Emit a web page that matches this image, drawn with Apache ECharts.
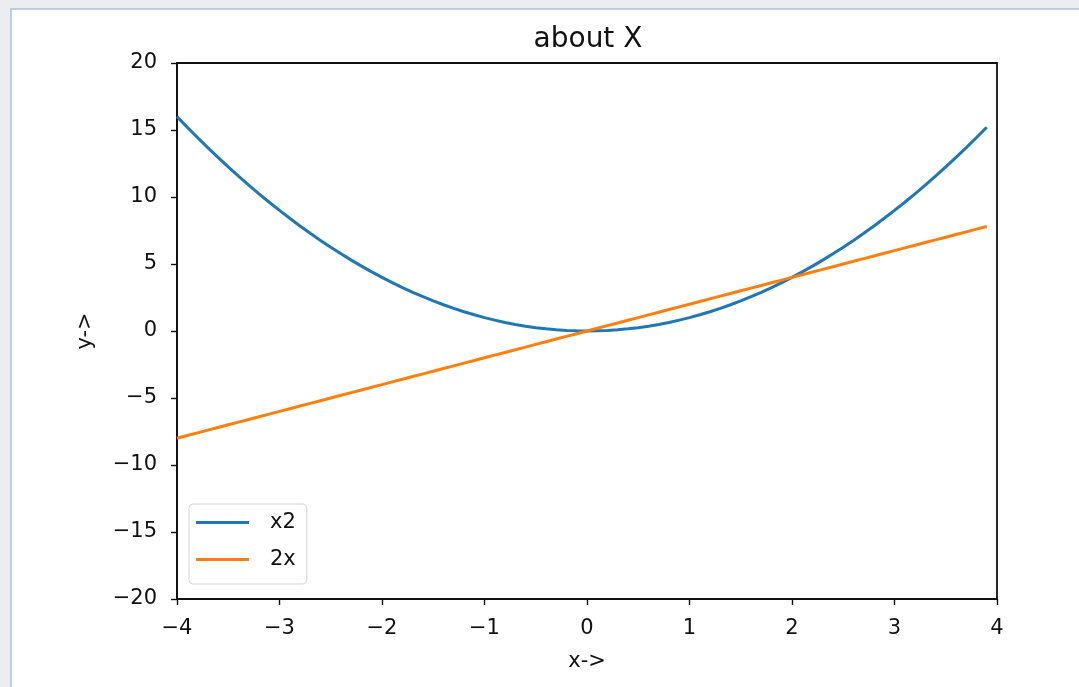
<!DOCTYPE html>
<html>
<head>
<meta charset="utf-8">
<script src="https://cdn.jsdelivr.net/npm/echarts@6/dist/echarts.min.js"></script>
<style>
  html, body { margin: 0; padding: 0; background: #ffffff; }
  #chart { width: 1079px; height: 687px; }
</style>
</head>
<body>
<div id="chart"></div>
<script>
// Sample positions along x
const xs = [
  -4.0, -3.9, -3.8, -3.7, -3.6, -3.5, -3.4, -3.3, -3.2, -3.1,
  -3.0, -2.9, -2.8, -2.7, -2.6, -2.5, -2.4, -2.3, -2.2, -2.1,
  -2.0, -1.9, -1.8, -1.7, -1.6, -1.5, -1.4, -1.3, -1.2, -1.1,
  -1.0, -0.9, -0.8, -0.7, -0.6, -0.5, -0.4, -0.3, -0.2, -0.1,
   0.0,  0.1,  0.2,  0.3,  0.4,  0.5,  0.6,  0.7,  0.8,  0.9,
   1.0,  1.1,  1.2,  1.3,  1.4,  1.5,  1.6,  1.7,  1.8,  1.9,
   2.0,  2.1,  2.2,  2.3,  2.4,  2.5,  2.6,  2.7,  2.8,  2.9,
   3.0,  3.1,  3.2,  3.3,  3.4,  3.5,  3.6,  3.7,  3.8,  3.9
];

// "x2" curve values
const squareVals = [
  16.00, 15.21, 14.44, 13.69, 12.96, 12.25, 11.56, 10.89, 10.24, 9.61,
   9.00,  8.41,  7.84,  7.29,  6.76,  6.25,  5.76,  5.29,  4.84, 4.41,
   4.00,  3.61,  3.24,  2.89,  2.56,  2.25,  1.96,  1.69,  1.44, 1.21,
   1.00,  0.81,  0.64,  0.49,  0.36,  0.25,  0.16,  0.09,  0.04, 0.01,
   0.00,  0.01,  0.04,  0.09,  0.16,  0.25,  0.36,  0.49,  0.64, 0.81,
   1.00,  1.21,  1.44,  1.69,  1.96,  2.25,  2.56,  2.89,  3.24, 3.61,
   4.00,  4.41,  4.84,  5.29,  5.76,  6.25,  6.76,  7.29,  7.84, 8.41,
   9.00,  9.61, 10.24, 10.89, 11.56, 12.25, 12.96, 13.69, 14.44, 15.21
];

// "2x" line values
const doubleVals = [
  -8.0, -7.8, -7.6, -7.4, -7.2, -7.0, -6.8, -6.6, -6.4, -6.2,
  -6.0, -5.8, -5.6, -5.4, -5.2, -5.0, -4.8, -4.6, -4.4, -4.2,
  -4.0, -3.8, -3.6, -3.4, -3.2, -3.0, -2.8, -2.6, -2.4, -2.2,
  -2.0, -1.8, -1.6, -1.4, -1.2, -1.0, -0.8, -0.6, -0.4, -0.2,
   0.0,  0.2,  0.4,  0.6,  0.8,  1.0,  1.2,  1.4,  1.6,  1.8,
   2.0,  2.2,  2.4,  2.6,  2.8,  3.0,  3.2,  3.4,  3.6,  3.8,
   4.0,  4.2,  4.4,  4.6,  4.8,  5.0,  5.2,  5.4,  5.6,  5.8,
   6.0,  6.2,  6.4,  6.6,  6.8,  7.0,  7.2,  7.4,  7.6,  7.8
];

const seriesNames = ['x2', '2x'];
const titleText = 'about X';
const xName = 'x->';
const yName = 'y->';

const FONT = 'DejaVu Sans';
const fmtTick = v => (v < 0 ? '\u2212' + Math.abs(v) : String(v));

const pairs = vals => xs.map((x, i) => [x, vals[i]]);

const chart = echarts.init(document.getElementById('chart'), null, { renderer: 'canvas' });

const axisCommon = {
  type: 'value',
  splitLine: { show: false },
  axisLine: { show: true, onZero: false, lineStyle: { color: '#111', width: 1.8 } },
  axisTick: { show: true, inside: false, length: 6, lineStyle: { color: '#111', width: 1.4 } },
  nameTextStyle: { fontFamily: FONT, fontSize: 21, color: '#111' }
};

chart.setOption({
  animation: false,
  backgroundColor: '#ebedf0',
  graphic: [
    {
      type: 'rect',
      z: -10,
      shape: { x: 11, y: 9, width: 1100, height: 700 },
      style: { fill: '#ffffff', stroke: '#a9c3df', lineWidth: 1.5 }
    }
  ],
  title: {
    text: titleText,
    left: 583,
    top: 21,
    textAlign: 'center',
    textStyle: { fontFamily: FONT, fontSize: 28, fontWeight: 'normal', color: '#111' }
  },
  legend: {
    orient: 'vertical',
    left: 189,
    top: 504,
    data: seriesNames,
    icon: 'rect',
    itemWidth: 53,
    itemHeight: 3,
    itemGap: 16,
    padding: [8, 11, 14, 7],
    backgroundColor: '#ffffff',
    borderColor: '#d6d6d6',
    borderWidth: 1,
    borderRadius: 4,
    textStyle: { fontFamily: FONT, fontSize: 21, color: '#111', lineHeight: 21, padding: [0, 0, 0, 16] }
  },
  grid: {
    left: 177, top: 63, width: 820, height: 536,
    show: true, borderColor: '#111', borderWidth: 1.8, backgroundColor: 'transparent'
  },
  xAxis: Object.assign({}, axisCommon, {
    min: -4, max: 4, interval: 1,
    name: xName, nameLocation: 'middle', nameGap: 52,
    axisLabel: { margin: 19, fontFamily: FONT, fontSize: 21, color: '#111', formatter: fmtTick }
  }),
  yAxis: Object.assign({}, axisCommon, {
    min: -20, max: 20, interval: 5,
    name: yName, nameLocation: 'middle', nameGap: 81,
    axisLabel: { margin: 20, fontFamily: FONT, fontSize: 21, color: '#111', formatter: fmtTick }
  }),
  series: [
    {
      name: seriesNames[0], type: 'line', data: pairs(squareVals),
      symbol: 'none', smooth: false,
      itemStyle: { color: '#1f77b4' },
      lineStyle: { color: '#1f77b4', width: 3 }
    },
    {
      name: seriesNames[1], type: 'line', data: pairs(doubleVals),
      symbol: 'none', smooth: false,
      itemStyle: { color: '#ff7f0e' },
      lineStyle: { color: '#ff7f0e', width: 3 }
    }
  ]
});
</script>
</body>
</html>
